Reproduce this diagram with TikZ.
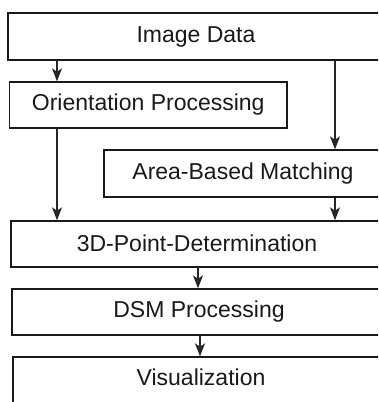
\documentclass[tikz,border=0pt]{standalone}
\usepackage{fontspec}
\setmainfont{Liberation Sans}
\usetikzlibrary{arrows.meta}
\begin{document}
\begin{tikzpicture}[x=1pt,y=-1pt,
  box/.style={draw=black!90, line width=1.4pt, rectangle, inner sep=0pt,
    font=\fontsize{23}{27}\selectfont, text=black!90},
  arr/.style={draw=black!85, line width=1.1pt,
    -{Stealth[length=13pt,width=10pt,inset=3.5pt]}}]
\useasboundingbox (0,0) rectangle (378,402);
\clip (0,0) rectangle (378,402);
\node[box, minimum width=376pt, minimum height=47pt] (img) at (196,36.5) {Image Data};
\node[box, minimum width=277.5pt, minimum height=46pt] (ori) at (148.25,105) {Orientation Processing};
\node[box, minimum width=278pt, minimum height=47pt] (abm) at (243,173.5) {Area-Based Matching};
\node[box, minimum width=372pt, minimum height=46pt, text height=17pt, text depth=2pt] (tdp) at (197,244) {3D-Point-Determination};
\node[box, minimum width=374pt, minimum height=46pt] (dsm) at (199,312) {DSM Processing};
\node[box, minimum width=376pt, minimum height=46pt, text height=17pt, text depth=7pt] (vis) at (201,380) {Visualization};
\coordinate (xl) at (57,0);
\coordinate (xr) at (335,0);
\draw[arr] (img.south -| xl) -- (ori.north -| xl);
\draw[arr] (img.south -| xr) -- (abm.north -| xr);
\draw[arr] (ori.south -| xl) -- (tdp.north -| xl);
\draw[arr] (abm.south -| xr) -- (tdp.north -| xr);
\coordinate (xm) at (198,0);
\coordinate (xn) at (200,0);
\draw[arr] (tdp.south -| xm) -- (dsm.north -| xm);
\draw[arr] (dsm.south -| xn) -- (vis.north -| xn);
\end{tikzpicture}
\end{document}
